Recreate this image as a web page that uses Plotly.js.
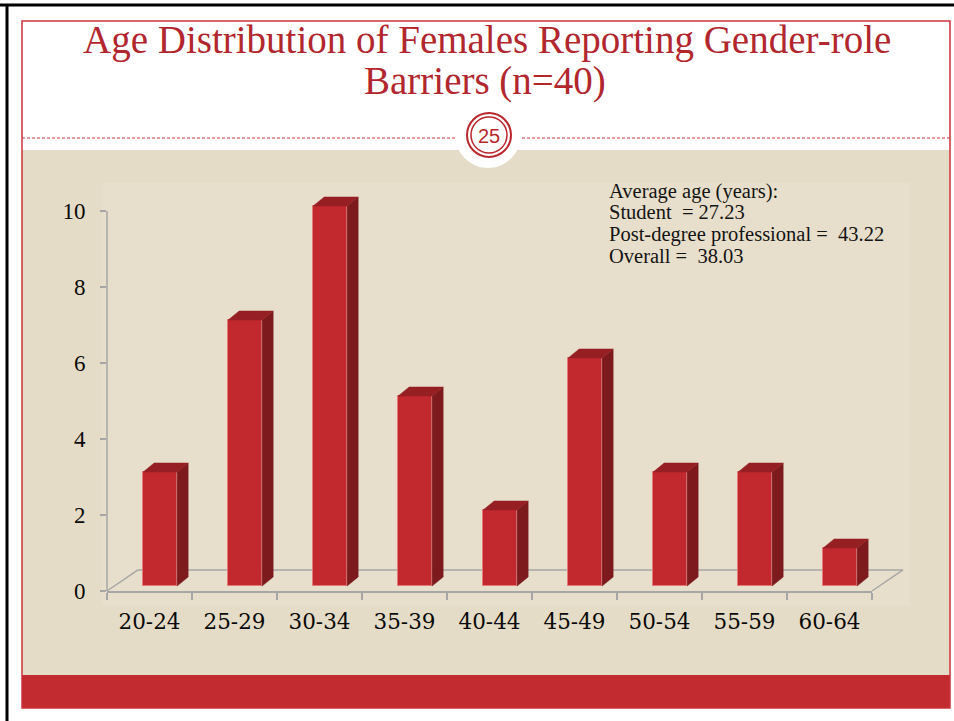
<!DOCTYPE html>
<html>
<head>
<meta charset="utf-8">
<script src="https://cdn.plot.ly/plotly-3.0.1.min.js"></script>
<style>
html,body{margin:0;padding:0;background:#fff;}
#chart{width:954px;height:721px;}
</style>
</head>
<body>
<div id="chart"></div>
<script>
// ---- data ----
var categories = ["20-24","25-29","30-34","35-39","40-44","45-49","50-54","55-59","60-64"];
var counts = [3, 7, 10, 5, 2, 6, 3, 3, 1];
var yTickVals = [0, 2, 4, 6, 8, 10];
var titleLines = ["Age Distribution of Females Reporting Gender-role", "Barriers (n=40)"];
var noteLines = ["Average age (years):", "Student  = 27.23", "Post-degree professional =  43.22", "Overall =  38.03"];
var slideNumber = "25";

// ---- geometry helpers (full-figure pixels -> paper) ----
var W = 954, H = 721;
function X(px){ return px / W; }
function Y(py){ return 1 - py / H; }

// plot box in pixels
var PX0 = 107, PX1 = 872, PY0 = 591, PY1 = 173;
var XR = [-0.5, 8.5], YR = [0, 11];
function xPaper(v){ return X(PX0 + (v - XR[0]) / (XR[1] - XR[0]) * (PX1 - PX0)); }
function yPaper(u){ return Y(PY0 - (u - YR[0]) / (YR[1] - YR[0]) * (PY0 - PY1)); }

var idx = categories.map(function(_, i){ return i; });
var barW = 0.4, barShift = 0.125;      // front face width / shift (category units)
var dX = 0.13, dY = 0.237;             // 3D depth offsets
var baseOff = 5 / 38;                  // bars sit slightly above the axis zero
var floorDX = 0.365, floorDY = 0.553;  // floor depth

var faceSide = { x: [], y: [] }, faceTop = { x: [], y: [] };
idx.forEach(function(i){
  var v = counts[i];
  var xl = i + barShift - barW / 2, xr = i + barShift + barW / 2;
  faceSide.x.push(xr, xr + dX, xr + dX, xr, xr, null);
  faceSide.y.push(0, dY, v + dY, v, 0, null);
  faceTop.x.push(xl, xl + dX, xr + dX, xr, xl, null);
  faceTop.y.push(v, v + dY, v + dY, v, v, null);
});

var traces = [
  { type: 'scatter', mode: 'lines', x: faceSide.x, y: faceSide.y, xaxis: 'x', yaxis: 'y2',
    fill: 'toself', fillcolor: '#7c1a1e', line: { width: 0.5, color: '#7c1a1e' }, hoverinfo: 'skip', showlegend: false },
  { type: 'scatter', mode: 'lines', x: faceTop.x, y: faceTop.y, xaxis: 'x', yaxis: 'y2',
    fill: 'toself', fillcolor: '#961f24', line: { width: 0.5, color: '#961f24' }, hoverinfo: 'skip', showlegend: false },
  { type: 'bar', x: idx, y: counts, base: 0, width: barW, offset: barShift - barW / 2,
    xaxis: 'x', yaxis: 'y2', marker: { color: '#c1292e', line: { color: '#e37a78', width: 1 } },
    customdata: categories, hovertemplate: '%{customdata}: %{y}<extra></extra>', showlegend: false },
  // invisible trace on the primary y axis so it keeps its ticks
  { type: 'scatter', mode: 'markers', x: idx, y: counts, xaxis: 'x', yaxis: 'y',
    marker: { opacity: 0, size: 1 }, hoverinfo: 'skip', showlegend: false }
];

var gray = '#a6a6a6';
var shapes = [
  // slide frame pieces
  { type: 'rect', xref: 'paper', yref: 'paper', x0: X(22), x1: X(950), y0: Y(150), y1: Y(675), fillcolor: '#e5dcc7', line: { width: 0 }, layer: 'below' },
  { type: 'rect', xref: 'paper', yref: 'paper', x0: X(102), x1: X(910), y0: Y(183), y1: Y(606), fillcolor: '#e7dfcb', line: { width: 0 }, layer: 'below' },
  { type: 'rect', xref: 'paper', yref: 'paper', x0: X(22), x1: X(950), y0: Y(675), y1: Y(708), fillcolor: '#c22b2f', line: { width: 0 }, layer: 'below' },
  { type: 'rect', xref: 'paper', yref: 'paper', x0: X(22), x1: X(950), y0: Y(21), y1: Y(708), line: { color: '#c9353a', width: 1.5 }, layer: 'below' },
  { type: 'line', xref: 'paper', yref: 'paper', x0: X(22), x1: X(950), y0: Y(138), y1: Y(138), line: { color: '#c9353a', width: 1, dash: '3px,2px' }, layer: 'below' },
  { type: 'line', xref: 'paper', yref: 'paper', x0: 0, x1: 1, y0: Y(5), y1: Y(5), line: { color: '#000', width: 3 }, layer: 'below' },
  { type: 'line', xref: 'paper', yref: 'paper', x0: X(7), x1: X(7), y0: Y(5), y1: 0, line: { color: '#000', width: 3 }, layer: 'below' },
  // page-number badge
  { type: 'circle', xref: 'paper', yref: 'paper', x0: X(488 - 33), x1: X(488 + 33), y0: Y(135 + 33), y1: Y(135 - 33), fillcolor: '#fff', line: { width: 0 }, layer: 'below' },
  { type: 'circle', xref: 'paper', yref: 'paper', x0: X(489 - 22), x1: X(489 + 22), y0: Y(135 + 22), y1: Y(135 - 22), line: { color: '#b8282d', width: 2 }, layer: 'below' },
  { type: 'circle', xref: 'paper', yref: 'paper', x0: X(489 - 18), x1: X(489 + 18), y0: Y(135 + 18), y1: Y(135 - 18), line: { color: '#b8282d', width: 1.5 }, layer: 'below' },
  // y axis line (0..10)
  { type: 'line', xref: 'paper', yref: 'paper', x0: xPaper(XR[0]), x1: xPaper(XR[0]), y0: yPaper(0), y1: yPaper(10), line: { color: gray, width: 1.5 }, layer: 'below' },
  // floor
  { type: 'line', xref: 'paper', yref: 'paper', x0: xPaper(XR[0]), y0: yPaper(0), x1: xPaper(XR[0] + floorDX), y1: yPaper(floorDY), line: { color: gray, width: 1.5 }, layer: 'below' },
  { type: 'line', xref: 'paper', yref: 'paper', x0: xPaper(XR[0] + floorDX), y0: yPaper(floorDY), x1: xPaper(XR[1] + floorDX), y1: yPaper(floorDY), line: { color: gray, width: 1.5 }, layer: 'below' },
  { type: 'line', xref: 'paper', yref: 'paper', x0: xPaper(XR[1] + floorDX), y0: yPaper(floorDY), x1: xPaper(XR[1]), y1: yPaper(0), line: { color: gray, width: 1.5 }, layer: 'below' }
];

var annotations = [
  { xref: 'paper', yref: 'paper', x: X(487), y: Y(40), xanchor: 'center', yanchor: 'middle', showarrow: false,
    text: titleLines[0], font: { family: 'Liberation Serif, serif', size: 39, color: '#b1272d' } },
  { xref: 'paper', yref: 'paper', x: X(485), y: Y(81), xanchor: 'center', yanchor: 'middle', showarrow: false,
    text: titleLines[1], font: { family: 'Liberation Serif, serif', size: 39, color: '#b1272d' } },
  { xref: 'paper', yref: 'paper', x: X(489), y: Y(136), xanchor: 'center', yanchor: 'middle', showarrow: false,
    text: slideNumber, font: { family: 'Liberation Sans, Arial, sans-serif', size: 20, color: '#b8282d' } }
];
var noteBase = [197, 218.5, 240, 261.5];
noteLines.forEach(function(t, k){
  annotations.push({ xref: 'paper', yref: 'paper', x: X(607), y: Y(noteBase[k] - 6), xanchor: 'left', yanchor: 'middle', showarrow: false,
    text: t, font: { family: 'Liberation Serif, serif', size: 20.5, color: '#141414' } });
});

var layout = {
  width: W, height: H,
  margin: { l: 0, r: 0, t: 0, b: 0 },
  paper_bgcolor: '#ffffff', plot_bgcolor: 'rgba(0,0,0,0)',
  showlegend: false,
  xaxis: {
    domain: [X(PX0), X(PX1)], range: XR.slice(), fixedrange: true,
    tickmode: 'array', tickvals: idx, ticktext: categories, ticks: '',
    minor: { tickmode: 'array', tickvals: idx.map(function(i){ return i - 0.5; }).concat([8.5]), ticks: 'outside', ticklen: 7, tickcolor: gray, tickwidth: 1.5, showgrid: false },
    showline: true, linecolor: gray, linewidth: 1.5,
    showgrid: false, zeroline: false, ticklabelstandoff: 10,
    tickfont: { family: 'DejaVu Serif, serif', size: 21.5, color: '#0a0a0a' }
  },
  yaxis: {
    domain: [Y(PY0), Y(PY1)], range: YR.slice(), autorange: false, fixedrange: true, visible: true,
    tickmode: 'array', tickvals: yTickVals, ticks: 'outside', ticklen: 6, tickcolor: gray, tickwidth: 1.5,
    showticklabels: true, showline: false, showgrid: false, zeroline: false, ticklabelstandoff: 10,
    tickfont: { family: 'Liberation Serif, serif', size: 23, color: '#0a0a0a' }
  },
  yaxis2: {
    overlaying: 'y', domain: [Y(PY0), Y(PY1)], range: [YR[0] - baseOff, YR[1] - baseOff], autorange: false, visible: false, fixedrange: true
  },
  bargap: 0,
  shapes: shapes,
  annotations: annotations
};

Plotly.newPlot('chart', traces, layout, { displayModeBar: false });
</script>
</body>
</html>
